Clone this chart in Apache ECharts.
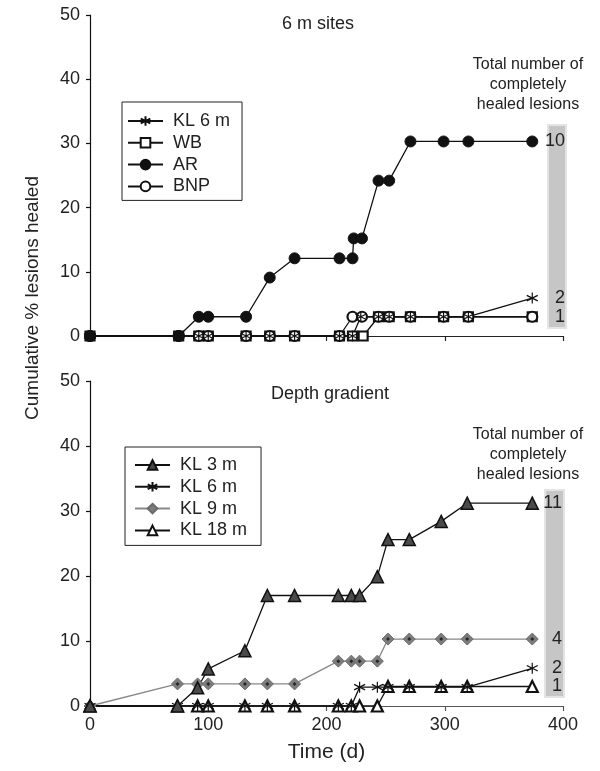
<!DOCTYPE html>
<html>
<head>
<meta charset="utf-8">
<script src="https://cdn.jsdelivr.net/npm/echarts@6/dist/echarts.min.js"></script>
<style>
html,body{margin:0;padding:0;background:#fff}
#chart{width:600px;height:771px}
</style>
</head>
<body>
<div id="chart"></div>
<script>
var FONT = 'Liberation Sans';

// ---- 6 m sites (top panel) ----
var topDaysKL6 = [0, 75, 92, 100, 132, 152, 173, 211, 222, 229, 244, 253, 271, 299, 320, 374];
var topKL6     = [0, 0, 0, 0, 0, 0, 0, 0, 0, 3.0, 3.0, 3.0, 3.0, 3.0, 3.0, 5.9];
var topDaysWB  = [0, 75, 92, 100, 132, 152, 173, 211, 222, 231, 244, 253, 271, 299, 320, 374];
var topWB      = [0, 0, 0, 0, 0, 0, 0, 0, 0, 0, 3.0, 3.0, 3.0, 3.0, 3.0, 3.0];
var topDaysAR  = [0, 75, 92, 100, 132, 152, 173, 211, 222, 223, 230, 244, 253, 271, 299, 320, 374];
var topAR      = [0, 0, 3.0, 3.0, 3.0, 9.1, 12.1, 12.1, 12.1, 15.2, 15.2, 24.2, 24.2, 30.3, 30.3, 30.3, 30.3];
var topDaysBNP = [0, 75, 92, 100, 132, 152, 173, 211, 222, 230, 244, 253, 271, 299, 320, 374];
var topBNP     = [0, 0, 0, 0, 0, 0, 0, 0, 3.0, 3.0, 3.0, 3.0, 3.0, 3.0, 3.0, 3.0];

// ---- Depth gradient (bottom panel) ----
var botDays = [0, 74, 91, 100, 131, 150, 173, 210, 221, 228, 243, 252, 270, 297, 319, 374];
var botKL3  = [0, 0, 2.8, 5.7, 8.5, 17.0, 17.0, 17.0, 17.0, 17.0, 19.9, 25.6, 25.6, 28.4, 31.2, 31.2];
var botKL6  = [0, 0, 0, 0, 0, 0, 0, 0, 0, 2.9, 2.9, 2.9, 2.9, 2.9, 2.9, 5.8];
var botKL9  = [0, 3.4, 3.4, 3.4, 3.4, 3.4, 3.4, 6.9, 6.9, 6.9, 6.9, 10.3, 10.3, 10.3, 10.3, 10.3];
var botKL18 = [0, 0, 0, 0, 0, 0, 0, 0, 0, 0, 0, 3.0, 3.0, 3.0, 3.0, 3.0];

// total number of completely healed lesions, shown at the right
var topTotals = ['10', '2', '1'];
var botTotals = ['11', '4', '2', '1'];

var yTicks = [0, 10, 20, 30, 40, 50];
var xTicks = [0, 100, 200, 300, 400];

function pairs(days, vals) {
    return days.map(function (d, i) { return [d, vals[i]]; });
}
function last(a) { return a[a.length - 1]; }

var ASTER = 'path://M5,0L5,10M0.67,2.5L9.33,7.5M0.67,7.5L9.33,2.5';

function lineSeries(name, gi, data, symbol, size, fill, border, bw, lineColor) {
    return {
        name: name, type: 'line', xAxisIndex: gi, yAxisIndex: gi,
        data: data, symbol: symbol, symbolSize: size, showAllSymbol: true,
        animation: false,
        lineStyle: {color: lineColor || '#111', width: 1.3},
        itemStyle: {color: fill, borderColor: border, borderWidth: bw}
    };
}

function xAxis(gi, showLabels, lineColor) {
    return {
        type: 'value', gridIndex: gi, min: xTicks[0], max: last(xTicks), interval: 100,
        axisLine: {show: true, onZero: false, lineStyle: {color: lineColor, width: 1.2}},
        axisTick: {show: true, inside: false, length: 5, lineStyle: {color: lineColor, width: 1.2}},
        axisLabel: {show: showLabels, fontFamily: FONT, fontSize: 18, color: '#222', margin: 10},
        splitLine: {show: false},
        name: showLabels ? 'Time (d)' : '', nameLocation: 'middle', nameGap: 36,
        nameTextStyle: {fontFamily: FONT, fontSize: 21, color: '#222'}
    };
}
function yAxis(gi) {
    return {
        type: 'value', gridIndex: gi, min: yTicks[0], max: last(yTicks), interval: 10,
        axisLine: {show: true, lineStyle: {color: '#111', width: 1.2}},
        axisTick: {show: true, inside: false, length: 4, lineStyle: {color: '#111', width: 1.2}},
        axisLabel: {fontFamily: FONT, fontSize: 18, color: '#222', margin: 10},
        splitLine: {show: false}
    };
}

function legend(names, left, top, pad) {
    return {
        data: names, orient: 'vertical', left: left, top: top,
        padding: pad, itemWidth: 35, itemHeight: 12, itemGap: 3.8,
        borderColor: '#222', borderWidth: 1, borderRadius: 0,
        textStyle: {fontFamily: FONT, fontSize: 18, color: '#222', lineHeight: 12, padding: [0, 0, 0, 5]},
        selectedMode: false
    };
}

var chart = echarts.init(document.getElementById('chart'));

var staticGraphics = [
    {type: 'rect', shape: {x: 548, y: 125, width: 18, height: 203},
        style: {fill: '#c6c6c6', stroke: '#e4e4e4', lineWidth: 2}, z: 0},
    {type: 'rect', shape: {x: 545, y: 490, width: 19, height: 207},
        style: {fill: '#c6c6c6', stroke: '#e4e4e4', lineWidth: 2}, z: 0},
    {type: 'text', x: 318, y: 24, style: {text: '6 m sites', fontFamily: FONT, fontSize: 18,
        fill: '#222', textAlign: 'center', textVerticalAlign: 'middle'}},
    {type: 'text', x: 330, y: 394, style: {text: 'Depth gradient', fontFamily: FONT, fontSize: 18,
        fill: '#222', textAlign: 'center', textVerticalAlign: 'middle'}},
    {type: 'text', x: 528, y: 55, style: {text: 'Total number of\ncompletely\nhealed lesions',
        fontFamily: FONT, fontSize: 16, lineHeight: 20, fill: '#222', textAlign: 'center', textVerticalAlign: 'top'}},
    {type: 'text', x: 528, y: 425, style: {text: 'Total number of\ncompletely\nhealed lesions',
        fontFamily: FONT, fontSize: 16, lineHeight: 20, fill: '#222', textAlign: 'center', textVerticalAlign: 'top'}},
    {type: 'text', x: 33, y: 298, rotation: Math.PI / 2,
        style: {text: 'Cumulative % lesions healed', fontFamily: FONT, fontSize: 19,
            fill: '#222', textAlign: 'center', textVerticalAlign: 'middle'}}
];

chart.setOption({
    animation: false,
    grid: [
        {left: 90, top: 15, width: 473, height: 321},
        {left: 90, top: 381, width: 473, height: 325}
    ],
    xAxis: [xAxis(0, false, '#222'), xAxis(1, true, '#555')],
    yAxis: [yAxis(0), yAxis(1)],
    legend: [
        legend(['KL 6 m', 'WB', 'AR', 'BNP'], 122, 102, [10, 12, 5, 5]),
        legend(['KL 3 m', 'KL 6 m', 'KL 9 m', 'KL 18 m'], 125, 447, [9, 14, 6, 9])
    ],
    graphic: staticGraphics,
    series: [
        lineSeries('WB', 0, pairs(topDaysWB, topWB), 'rect', 9, '#fff', '#111', 2.2),
        lineSeries('BNP', 0, pairs(topDaysBNP, topBNP), 'circle', 10, '#fff', '#111', 2.2),
        lineSeries('KL 6 m', 0, pairs(topDaysKL6, topKL6), ASTER, 11, '#fff', '#111', 1.2),
        lineSeries('AR', 0, pairs(topDaysAR, topAR), 'circle', 11, '#111', '#111', 1),

        lineSeries('KL 9 m', 1, pairs(botDays, botKL9), 'diamond', 12, '#7d7d7d', '#6a6a6a', 1, '#888'),
        {type: 'scatter', xAxisIndex: 1, yAxisIndex: 1, data: pairs(botDays, botKL9), symbol: 'diamond',
            symbolSize: 4, itemStyle: {color: '#111'}, silent: true, z: 3},
        lineSeries('KL 18 m', 1, pairs(botDays, botKL18), 'triangle', 11, '#fff', '#111', 2.2),
        lineSeries('KL 6 m', 1, pairs(botDays, botKL6), ASTER, 11, '#fff', '#111', 1.2),
        lineSeries('KL 3 m', 1, pairs(botDays, botKL3), 'triangle', 12, '#4a4a4a', '#111', 1.5)
    ]
});

// numbers next to the bars, aligned with each series' final value
function endLabels(gi, texts, points, right) {
    return texts.map(function (t, i) {
        var p = chart.convertToPixel({gridIndex: gi}, points[i]);
        return {type: 'text', x: right, y: p[1], z: 10,
            style: {text: t, fontFamily: FONT, fontSize: 18, fill: '#222',
                textAlign: 'right', textVerticalAlign: 'middle'}};
    });
}
var topPts = [[last(topDaysAR), last(topAR)], [last(topDaysKL6), last(topKL6)], [last(topDaysWB), last(topWB)]];
var botPts = [[last(botDays), last(botKL3)], [last(botDays), last(botKL9)],
              [last(botDays), last(botKL6)], [last(botDays), last(botKL18)]];

chart.setOption({
    graphic: staticGraphics
        .concat(endLabels(0, topTotals, topPts, 565))
        .concat(endLabels(1, botTotals, botPts, 562))
});
</script>
</body>
</html>
